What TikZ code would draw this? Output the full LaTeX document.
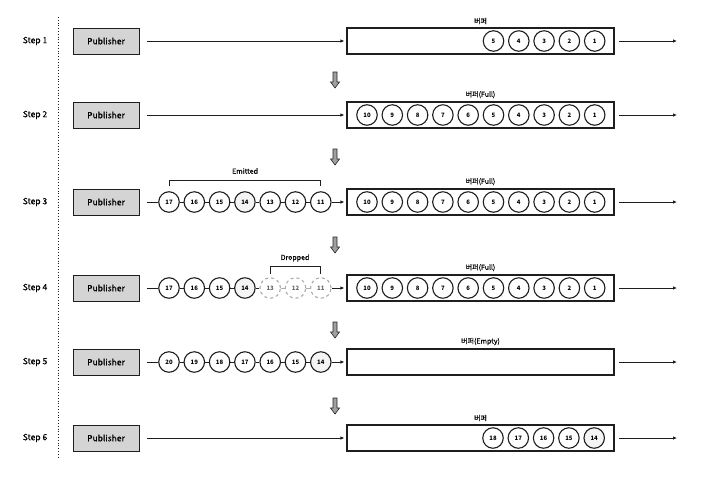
\documentclass[tikz,border=0pt]{standalone}
\usepackage{fontspec}
\setmainfont{Noto Sans CJK KR}
\newfontfamily\medfont{Noto Sans CJK KR}[FakeBold=0.35]
\usetikzlibrary{arrows.meta,calc}
\definecolor{edge}{HTML}{1E1E1E}
\definecolor{pubfill}{HTML}{D4D4D4}
\definecolor{hl}{HTML}{F4F4F4}
\definecolor{arrfill}{HTML}{A0A0A0}
\tikzset{
 pub/.style={draw=edge, line width=1pt, fill=pubfill, minimum width=66pt, minimum height=26pt, inner sep=0pt, font=\medfont\fontsize{8.5}{10}\selectfont},
 buf/.style={draw=edge, line width=1.2pt, minimum width=267pt, minimum height=26pt, inner sep=0pt},
 ball/.style={circle, draw=edge, line width=1.1pt, fill=white, minimum size=20.5pt, inner sep=0pt, font=\fontsize{6}{7}\selectfont\bfseries},
 hlball/.style={ball, fill=hl},
 dropball/.style={ball, draw=gray!65, dashed, text=gray!80!black},
 steplbl/.style={font=\medfont\fontsize{8.5}{10}\selectfont},
 buflbl/.style={font=\medfont\fontsize{7}{8}\selectfont, anchor=south, inner sep=1pt},
 brlbl/.style={font=\medfont\fontsize{7}{8}\selectfont},
 flow/.style={draw=edge, line width=0.9pt, -{Latex[length=4pt,width=3.5pt]}},
 link/.style={draw=edge, line width=0.9pt},
 droplink/.style={draw=gray!65, line width=0.9pt},
 downarr/.style={draw=gray!30!black, fill=arrfill, line width=0.6pt},
}
\begin{document}
\begin{tikzpicture}[x=1pt,y=-1pt]
\useasboundingbox (0,0) rectangle (714,482);
% divider
\draw[dotted, line width=0.8pt, edge] (58,17) -- (58,457);
% step labels, publishers, buffers
\foreach \i/\y in {1/41,2/115,3/202,4/288,5/362,6/438} {
  \node[steplbl] (lbl\i) at (35,\y) {Step \i};
  \node[pub] (pub\i) at (106,\y) {Publisher};
  \node[buf] (buf\i) at (480.5,\y) {};
  \coordinate (out\i) at (677,\y);
  \draw[flow, shorten <=4pt] (buf\i.east) -- (out\i);
}
% down arrows
\foreach \y in {80,157,245,330,406} {
  \draw[downarr] (333,\y-8) -- (337,\y-8) -- (337,\y+2) -- (339.5,\y+2) -- (335,\y+8) -- (330.5,\y+2) -- (333,\y+2) -- cycle;
}
% buffer labels
\node[buflbl] (bl1) at ([yshift=2pt]buf1.north) {버퍼};
\node[buflbl] (bl2) at ([yshift=2pt]buf2.north) {버퍼(Full)};
\node[buflbl] (bl3) at ([yshift=2pt]buf3.north) {버퍼(Full)};
\node[buflbl] (bl4) at ([yshift=2pt]buf4.north) {버퍼(Full)};
\node[buflbl] (bl5) at ([yshift=2pt]buf5.north) {버퍼(Empty)};
\node[buflbl] (bl6) at ([yshift=2pt]buf6.north) {버퍼};
% Step 1
\draw[flow, shorten <=7pt, shorten >=2pt] (pub1.east) -- (buf1.west);
\foreach \n in {5,4,3,2,1} \node[ball] (b1c\n) at ({367+25.3*(10-\n)},41) {\n};
% Step 2
\draw[flow, shorten <=7pt, shorten >=2pt] (pub2.east) -- (buf2.west);
\foreach \n in {10,9,...,1} \node[ball] (b2c\n) at ({367+25.3*(10-\n)},115) {\n};
% Step 3
\foreach \n in {10,9,...,1} \node[ball] (b3c\n) at ({367+25.3*(10-\n)},202) {\n};
\foreach \n in {17,16,15,13,12,11} \node[ball] (s3c\n) at ({169+25.3*(17-\n)},202) {\n};
\node[hlball] (s3c14) at ({169+25.3*3},202) {14};
\draw[link, shorten <=7pt] (pub3.east) -- (s3c17);
\foreach \n in {17,16,...,12} {\pgfmathtruncatemacro\m{\n-1}\draw[link] (s3c\n) -- (s3c\m);}
\draw[flow, shorten >=2pt] (s3c11) -- (buf3.west);
\draw[link] ([yshift=5pt]s3c17.north) -- ++(0,-6) -| ([yshift=5pt]s3c11.north);
\node[brlbl] (emit) at (245,171) {Emitted};
% Step 4
\foreach \n in {10,9,...,1} \node[ball] (b4c\n) at ({367+25.3*(10-\n)},288) {\n};
\foreach \n in {17,16,15} \node[ball] (s4c\n) at ({169+25.3*(17-\n)},288) {\n};
\node[hlball] (s4c14) at ({169+25.3*3},288) {14};
\foreach \n in {13,12,11} \node[dropball] (s4c\n) at ({169+25.3*(17-\n)},288) {\n};
\draw[link, shorten <=7pt] (pub4.east) -- (s4c17);
\foreach \n in {17,16,15,14} {\pgfmathtruncatemacro\m{\n-1}\draw[link] (s4c\n) -- (s4c\m);}
\foreach \n in {13,12} {\pgfmathtruncatemacro\m{\n-1}\draw[droplink] (s4c\n) -- (s4c\m);}
\draw[flow, shorten >=2pt] (s4c11) -- (buf4.west);
\draw[link] ([yshift=3pt]s4c13.north) -- ++(0,-8) -| ([yshift=3pt]s4c11.north);
\node[brlbl] (drop) at (295,258) {Dropped};
% Step 5
\foreach \n in {20,19,...,15} \node[ball] (s5c\n) at ({169+25.3*(20-\n)},362) {\n};
\node[hlball] (s5c14) at ({169+25.3*6},362) {14};
\draw[link, shorten <=7pt] (pub5.east) -- (s5c20);
\foreach \n in {20,19,...,15} {\pgfmathtruncatemacro\m{\n-1}\draw[link] (s5c\n) -- (s5c\m);}
\draw[flow, shorten >=2pt] (s5c14) -- (buf5.west);
% Step 6
\draw[flow, shorten <=7pt, shorten >=2pt] (pub6.east) -- (buf6.west);
\foreach \n in {18,17,16,15} \node[ball] (b6c\n) at ({493+25.3*(18-\n)},438) {\n};
\node[hlball] (b6c14) at ({493+25.3*4},438) {14};
\end{tikzpicture}
\end{document}
